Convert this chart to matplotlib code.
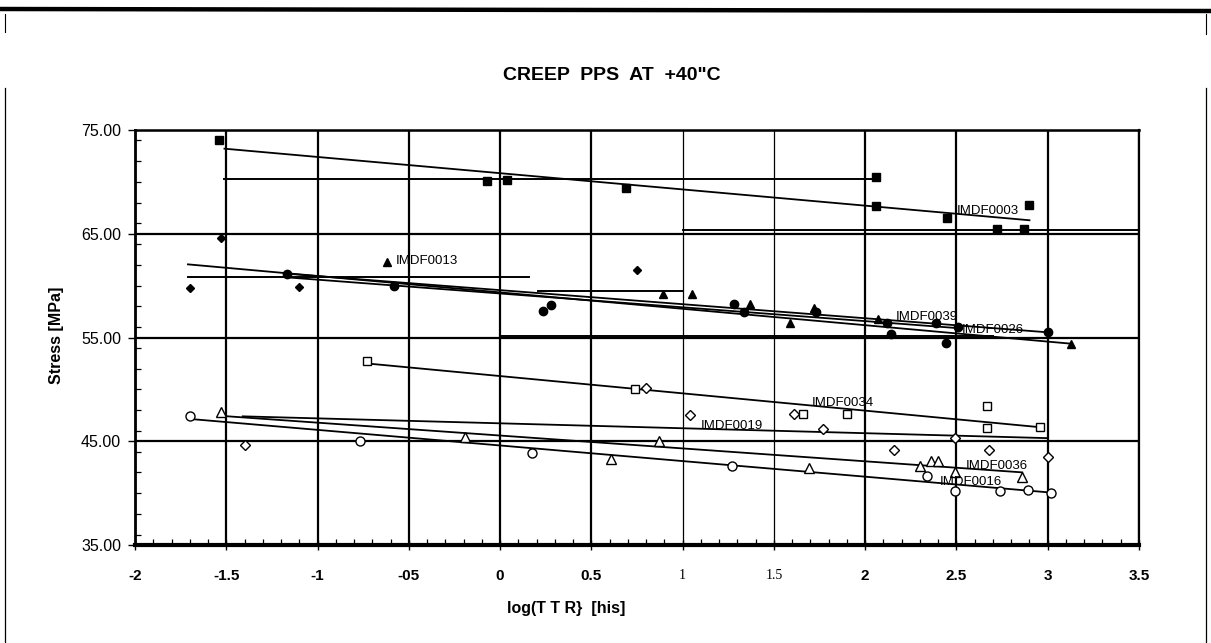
import matplotlib
matplotlib.use('Agg')
import matplotlib.pyplot as plt
from matplotlib.lines import Line2D
from matplotlib.ticker import MultipleLocator

NARROW = ['Liberation Sans Narrow', 'Liberation Sans', 'DejaVu Sans']
SANS = ['Liberation Sans', 'DejaVu Sans']
SERIF = ['Liberation Serif', 'DejaVu Serif']

# ---------------- text ----------------
title = 'CREEP  PPS  AT  +40"C'
x_label = 'log(T T R}  [his]'
y_label = 'Stress [MPa]'

x_ticks = [-2, -1.5, -1, -0.5, 0, 0.5, 1, 1.5, 2, 2.5, 3, 3.5]
x_tick_labels = ['-2', '-1.5', '-1', '-05', '0', '0.5', '1', '1.5', '2', '2.5', '3', '3.5']
y_ticks = [35, 45, 55, 65, 75]
y_tick_labels = ['35.00', '45.00', '55.00', '65.00', '75.00']

# ---------------- data ----------------
# IMDF0003 - filled squares
imdf0003_x = [-1.54, -0.07, 0.04, 0.69, 2.06, 2.06, 2.45, 2.72, 2.87, 2.90]
imdf0003_y = [74.0, 70.1, 70.15, 69.4, 70.5, 67.7, 66.5, 65.5, 65.5, 67.75]
imdf0003_fit_x = [-1.51, 2.90]
imdf0003_fit_y = [73.2, 66.3]

# IMDF0013 - filled triangles
imdf0013_x = [-0.62, 0.89, 1.05, 1.37, 1.59, 1.72, 2.07, 3.13]
imdf0013_y = [62.3, 59.15, 59.15, 58.25, 56.4, 57.8, 56.8, 54.4]
imdf0013_fit_x = [-1.71, 3.13]
imdf0013_fit_y = [62.05, 54.4]

# IMDF0039 - filled circles
imdf0039_x = [-1.17, -0.58, 0.235, 0.28, 1.28, 1.335, 1.73, 2.12, 2.14, 2.39, 2.44, 2.51, 3.0]
imdf0039_y = [61.1, 60.0, 57.6, 58.1, 58.25, 57.45, 57.45, 56.4, 55.35, 56.4, 54.45, 56.0, 55.5]
imdf0039_fit_x = [-1.17, 3.0]
imdf0039_fit_y = [61.15, 55.5]

# IMDF0026 - filled diamonds
imdf0026_x = [-1.70, -1.53, -1.10, 0.75]
imdf0026_y = [59.8, 64.6, 59.85, 61.5]
imdf0026_fit_x = [-1.17, 2.51]
imdf0026_fit_y = [60.8, 55.9]

# IMDF0034 - open squares
imdf0034_x = [-0.73, 0.74, 1.66, 1.90, 2.67, 2.67, 2.96]
imdf0034_y = [52.7, 50.0, 47.6, 47.65, 48.4, 46.3, 46.35]
imdf0034_fit_x = [-0.73, 2.96]
imdf0034_fit_y = [52.5, 46.35]

# IMDF0019 - open diamonds
imdf0019_x = [-1.40, 0.80, 1.04, 1.61, 1.77, 2.16, 2.49, 2.68, 3.0]
imdf0019_y = [44.6, 50.1, 47.5, 47.6, 46.2, 44.15, 45.3, 44.2, 43.5]
imdf0019_fit_x = [-1.41, 3.0]
imdf0019_fit_y = [47.4, 45.3]

# IMDF0036 - open triangles
imdf0036_x = [-1.53, -0.19, 0.61, 0.87, 1.69, 2.30, 2.36, 2.40, 2.49, 2.86]
imdf0036_y = [47.8, 45.4, 43.3, 45.0, 42.45, 42.6, 43.1, 43.1, 42.0, 41.6]
imdf0036_fit_x = [-1.53, 2.86]
imdf0036_fit_y = [47.45, 42.0]

# IMDF0016 - open circles
imdf0016_x = [-1.70, -0.77, 0.175, 1.27, 2.34, 2.49, 2.74, 2.89, 3.02]
imdf0016_y = [47.4, 45.0, 43.85, 42.6, 41.65, 40.2, 40.2, 40.3, 40.05]
imdf0016_fit_x = [-1.70, 3.02]
imdf0016_fit_y = [47.15, 40.05]

# horizontal reference segments drawn in the original
hseg_y = [70.3, 60.8, 59.5, 55.15, 65.35]
hseg_x0 = [-1.51, -1.71, 0.21, 0.0, 1.0]
hseg_x1 = [2.06, 0.16, 0.995, 2.7, 3.5]

# data labels
label_text = ['IMDF0003', 'IMDF0013', 'IMDF0039', 'IMDF0026', 'IMDF0034', 'IMDF0019', 'IMDF0036', 'IMDF0016']
label_x = [2.50, -0.57, 2.17, 2.53, 1.71, 1.10, 2.55, 2.41]
label_y = [67.2, 62.4, 56.95, 55.75, 48.65, 46.5, 42.6, 41.1]

# ---------------- figure ----------------
W, H = 1211, 643
fig = plt.figure(figsize=(W / 100, H / 100), dpi=100)
fig.patch.set_facecolor('white')

# page frame of the scanned sheet
frame_kw = dict(transform=fig.transFigure, color='black')
fig.add_artist(Line2D([0, 1], [1 - 9 / H, 1 - 11 / H], lw=3.2, **frame_kw))
fig.add_artist(Line2D([5 / W, 5 / W], [1 - 14 / H, 1 - 32 / H], lw=0.8, **frame_kw))
fig.add_artist(Line2D([5 / W, 5 / W], [1 - 88 / H, 0], lw=0.9, **frame_kw))
fig.add_artist(Line2D([1206 / W, 1206 / W], [1 - 14 / H, 1 - 34 / H], lw=0.8, **frame_kw))
fig.add_artist(Line2D([1206 / W, 1206 / W], [1 - 88 / H, 0], lw=0.9, **frame_kw))

left, right, top, bottom = 135, 1139, 130, 545
ax = fig.add_axes([left / W, 1 - bottom / H, (right - left) / W, (bottom - top) / H])
ax.set_xlim(-2, 3.5)
ax.set_ylim(35, 75)

# grid
ax.set_xticks(x_ticks)
ax.set_yticks(y_ticks)
ax.xaxis.set_minor_locator(MultipleLocator(0.1))
ax.yaxis.set_minor_locator(MultipleLocator(2))
ax.grid(True, which='major', color='black', lw=1.6)
for gl, t in zip(ax.get_xgridlines(), x_ticks):
    if t in (1, 1.5):
        gl.set_linewidth(0.9)
ax.set_axisbelow(True)

for side, lw in (('left', 2.0), ('bottom', 3.0), ('top', 1.8), ('right', 1.6)):
    ax.spines[side].set_linewidth(lw)
    ax.spines[side].set_color('black')

ax.tick_params(axis='x', which='major', direction='inout', length=7, width=1.0, pad=14)
ax.tick_params(axis='x', which='minor', direction='in', length=4, width=0.9)
ax.tick_params(axis='y', which='major', direction='out', length=5, width=1.0, pad=5)
ax.tick_params(axis='y', which='minor', direction='in', length=4, width=0.9)

ax.set_xticklabels(x_tick_labels)
ax.set_yticklabels(y_tick_labels)
for lab, txt in zip(ax.get_xticklabels(), x_tick_labels):
    if txt in ('1', '1.5'):
        lab.set_fontfamily(SERIF)
        lab.set_fontweight('normal')
        lab.set_fontsize(10)
    else:
        lab.set_fontfamily(NARROW)
        lab.set_fontweight('bold')
        lab.set_fontsize(11)
for lab in ax.get_yticklabels():
    lab.set_fontfamily(NARROW)
    lab.set_fontsize(11.5)

# horizontal segments
for y, x0, x1 in zip(hseg_y, hseg_x0, hseg_x1):
    ax.plot([x0, x1], [y, y], color='black', lw=1.4, zorder=2)

# series
series = [
    (imdf0003_x, imdf0003_y, imdf0003_fit_x, imdf0003_fit_y, 's', 'black', 6),
    (imdf0013_x, imdf0013_y, imdf0013_fit_x, imdf0013_fit_y, '^', 'black', 6),
    (imdf0039_x, imdf0039_y, imdf0039_fit_x, imdf0039_fit_y, 'o', 'black', 6),
    (imdf0026_x, imdf0026_y, imdf0026_fit_x, imdf0026_fit_y, 'D', 'black', 4.5),
    (imdf0034_x, imdf0034_y, imdf0034_fit_x, imdf0034_fit_y, 's', 'white', 6),
    (imdf0019_x, imdf0019_y, imdf0019_fit_x, imdf0019_fit_y, 'D', 'white', 5),
    (imdf0036_x, imdf0036_y, imdf0036_fit_x, imdf0036_fit_y, '^', 'white', 6.5),
    (imdf0016_x, imdf0016_y, imdf0016_fit_x, imdf0016_fit_y, 'o', 'white', 6.5),
]
for xs, ys, fx, fy, mk, fc, ms in series:
    ax.plot(fx, fy, color='black', lw=1.3, zorder=3)
    ax.plot(xs, ys, linestyle='none', marker=mk, markersize=ms,
            markerfacecolor=fc, markeredgecolor='black', markeredgewidth=1.0, zorder=4)

for t, x, y in zip(label_text, label_x, label_y):
    ax.text(x, y, t, fontsize=9.5, family=SANS, ha='left', va='center', zorder=5)

# titles
fig.text(612 / W, 1 - 75 / H, title, ha='center', va='center',
         fontsize=14, fontweight='bold', family=NARROW)
fig.text(566 / W, 1 - 609 / H, x_label, ha='center', va='center',
         fontsize=11.5, fontweight='bold', family=NARROW)
fig.text(57 / W, 1 - 335 / H, y_label, ha='center', va='center', rotation=90,
         fontsize=11.5, fontweight='bold', family=NARROW)

fig.savefig('out.png', dpi=100, facecolor='white')
